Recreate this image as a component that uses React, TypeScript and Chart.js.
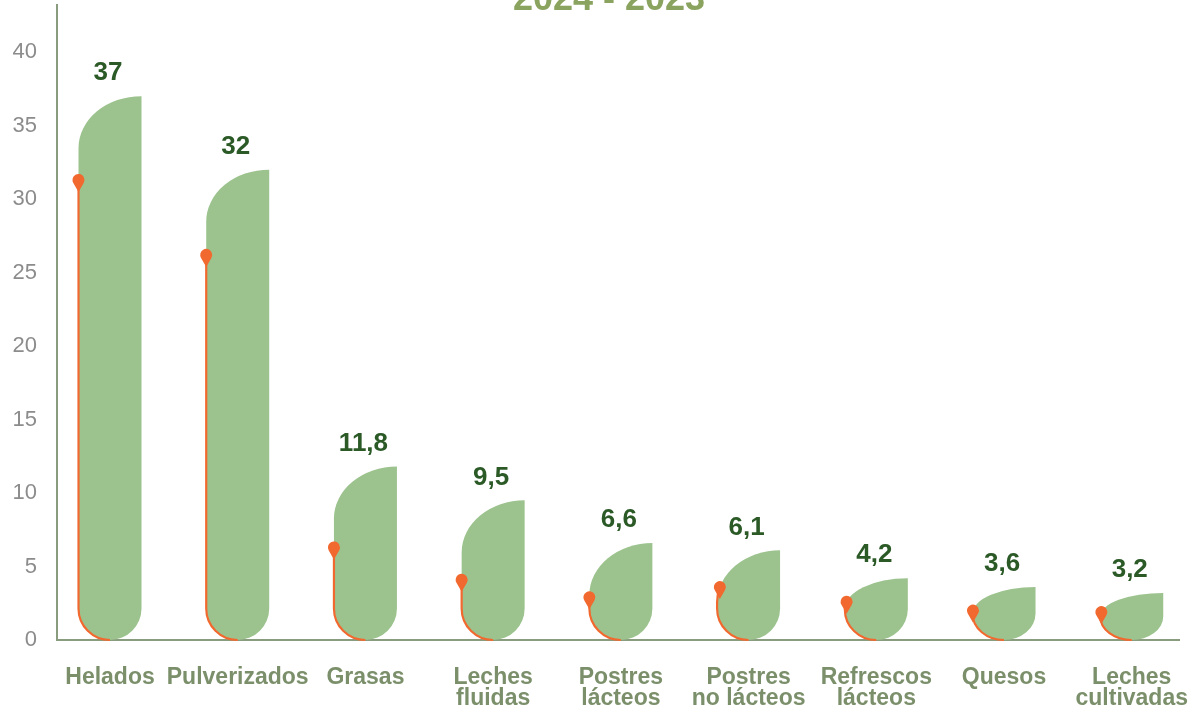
import { useEffect, useRef } from 'react';
import { Chart, registerables } from 'chart.js';

Chart.register(...registerables);

const categories: string[][] = [
  ['Helados'],
  ['Pulverizados'],
  ['Grasas'],
  ['Leches', 'fluidas'],
  ['Postres', 'lácteos'],
  ['Postres', 'no lácteos'],
  ['Refrescos', 'lácteos'],
  ['Quesos'],
  ['Leches', 'cultivadas'],
];
const values: number[] = [37, 32, 11.8, 9.5, 6.6, 6.1, 4.2, 3.6, 3.2];
const markerValues: number[] = [31.3, 26.2, 6.3, 4.1, 2.9, 3.6, 2.6, 2.0, 1.9];
const yTickValues: number[] = [0, 5, 10, 15, 20, 25, 30, 35, 40];
const titleText = '2024 - 2023';

const FONT = '"Liberation Sans", Arial, sans-serif';
const GREEN = '#9cc38e';
const ORANGE = '#f2692f';
const AXIS = '#8a9c7e';

function shapeDims(L: number, R: number, T: number, B: number) {
  const w = R - L;
  const h = B - T;
  const r = w / 2;
  const ryB = Math.min(r, h * 0.5);
  const ryT = Math.min(52, h - ryB);
  return { w, h, r, ryB, ryT, cx: L + r };
}

const leafPlugin = {
  id: 'leafPlugin',
  afterDatasetsDraw(chart: any) {
    const ctx = chart.ctx as CanvasRenderingContext2D;
    const barMeta = chart.getDatasetMeta(0);
    const markMeta = chart.getDatasetMeta(1);
    const area = chart.chartArea;
    barMeta.data.forEach((el: any, i: number) => {
      const p = el.getProps(['x', 'y', 'base', 'width'], true);
      const L = p.x - p.width / 2;
      const R = p.x + p.width / 2;
      const T = p.y;
      const B = p.base;
      const d = shapeDims(L, R, T, B);
      ctx.save();
      ctx.beginPath();
      ctx.moveTo(R, T);
      ctx.lineTo(R, B - d.ryB);
      ctx.ellipse(d.cx, B - d.ryB, d.r, d.ryB, 0, 0, Math.PI / 2);
      ctx.ellipse(d.cx, B - d.ryB, d.r, d.ryB, 0, Math.PI / 2, Math.PI);
      ctx.lineTo(L, T + d.ryT);
      ctx.ellipse(R, T + d.ryT, d.w, d.ryT, 0, Math.PI, Math.PI * 1.5);
      ctx.closePath();
      ctx.fillStyle = GREEN;
      ctx.fill();

      const my = markMeta.data[i].y;
      let mx = L;
      if (my < T + d.ryT) {
        const t = (T + d.ryT - my) / d.ryT;
        mx = R - d.w * Math.sqrt(Math.max(0, 1 - t * t));
      } else if (my > B - d.ryB) {
        const t = (my - (B - d.ryB)) / d.ryB;
        mx = d.cx - d.r * Math.sqrt(Math.max(0, 1 - t * t));
      }

      ctx.save();
      ctx.beginPath();
      ctx.rect(0, my, chart.width, chart.height);
      ctx.clip();
      ctx.beginPath();
      ctx.ellipse(R, T + d.ryT, d.w, d.ryT, 0, Math.PI * 1.5, Math.PI, true);
      ctx.lineTo(L, B - d.ryB);
      ctx.ellipse(d.cx, B - d.ryB, d.r, d.ryB, 0, Math.PI, Math.PI / 2, true);
      ctx.strokeStyle = ORANGE;
      ctx.lineWidth = 2.2;
      ctx.stroke();
      ctx.restore();

      const pr = 6;
      const tip = 12;
      const a = Math.acos(pr / tip);
      ctx.beginPath();
      ctx.arc(mx, my, pr, Math.PI / 2 + a, Math.PI / 2 - a + Math.PI * 2, false);
      ctx.lineTo(mx, my + tip);
      ctx.closePath();
      ctx.fillStyle = ORANGE;
      ctx.fill();

      ctx.fillStyle = '#2b5a27';
      ctx.font = `bold 26px ${FONT}`;
      ctx.textAlign = 'center';
      ctx.textBaseline = 'middle';
      ctx.fillText(String(values[i]).replace('.', ','), p.x - 2, T - 23);
      ctx.restore();
    });

    ctx.save();
    ctx.fillStyle = '#8aa35f';
    ctx.font = `bold 36px ${FONT}`;
    ctx.textAlign = 'center';
    ctx.textBaseline = 'alphabetic';
    ctx.fillText(titleText, (area.left + area.right) / 2 - 9, area.top + 5);
    ctx.restore();
  },
};

function zeroPad(scale: any) {
  scale.paddingLeft = 0;
  scale.paddingRight = 0;
  scale.paddingTop = 0;
  scale.paddingBottom = 0;
}

export default function App() {
  const ref = useRef<HTMLCanvasElement | null>(null);
  useEffect(() => {
    document.body.style.margin = '0';
    const canvas = ref.current;
    if (!canvas) return;
    const chart = new Chart(canvas, {
      type: 'bar',
      data: {
        datasets: [
          {
            label: '2024',
            data: values.map((v, i) => ({ x: i, y: v })),
            backgroundColor: 'rgba(0,0,0,0)',
            barThickness: 63,
          } as any,
          {
            type: 'line',
            label: 'marcador',
            data: markerValues.map((v, i) => ({ x: i, y: v })),
            showLine: false,
            pointRadius: 0,
            pointHoverRadius: 0,
          } as any,
        ],
      },
      options: {
        animation: false,
        responsive: false,
        maintainAspectRatio: false,
        layout: { padding: { top: 5, right: 18, left: 0, bottom: 0 } },
        plugins: {
          legend: { display: false },
          tooltip: { enabled: false },
          title: { display: false },
        },
        scales: {
          x: {
            type: 'linear',
            offset: false,
            min: -0.415,
            max: 8.37,
            grid: { display: false, drawTicks: false, offset: false },
            border: { display: true, color: AXIS, width: 2 },
            afterBuildTicks: (scale: any) => {
              scale.ticks = categories.map((_, i) => ({ value: i }));
            },
            afterFit: (scale: any) => {
              scale.height = 69;
              zeroPad(scale);
            },
            ticks: {
              autoSkip: false,
              maxRotation: 0,
              minRotation: 0,
              padding: 28,
              color: '#7a8f6a',
              font: { family: FONT, size: 23, weight: 'bold', lineHeight: 0.88 },
              callback: (v: any) => categories[Math.round(Number(v))] ?? '',
            },
          },
          y: {
            min: 0,
            max: 43.2,
            grid: { display: false, drawTicks: false },
            border: { display: true, color: AXIS, width: 2 },
            afterBuildTicks: (scale: any) => {
              scale.ticks = yTickValues.map((v) => ({ value: v }));
            },
            afterFit: (scale: any) => {
              scale.width = 57;
              zeroPad(scale);
            },
            ticks: {
              padding: 20,
              color: '#8c8c8c',
              font: { family: FONT, size: 22 },
            },
          },
        },
      } as any,
      plugins: [leafPlugin],
    });
    return () => chart.destroy();
  }, []);
  return (
    <div style={{ position: 'fixed', left: 0, top: 0, width: 1197, height: 709 }}>
      <canvas ref={ref} width={1197} height={709} style={{ display: 'block' }} />
    </div>
  );
}
